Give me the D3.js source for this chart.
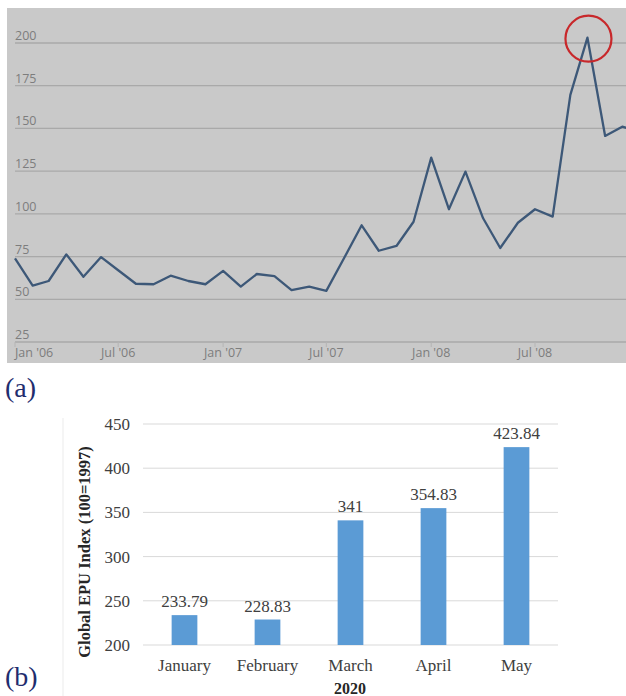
<!DOCTYPE html>
<html>
<head>
<meta charset="utf-8">
<script src="https://cdn.jsdelivr.net/npm/d3@7"></script>
<style>
  body { margin: 0; background: #fff; }
  svg { display: block; }
</style>
</head>
<body>
<svg id="chart" width="626" height="696"></svg>
<script>
// (a) monthly index, Jan 2006 .. Jan 2009
var months = ["2006-01","2006-02","2006-03","2006-04","2006-05","2006-06","2006-07","2006-08","2006-09","2006-10","2006-11","2006-12",
              "2007-01","2007-02","2007-03","2007-04","2007-05","2007-06","2007-07","2007-08","2007-09","2007-10","2007-11","2007-12",
              "2008-01","2008-02","2008-03","2008-04","2008-05","2008-06","2008-07","2008-08","2008-09","2008-10","2008-11","2008-12",
              "2009-01"];
var indexValues = [74, 58, 60.7, 76.3, 63.2, 74.7, 67, 59.1, 58.8, 63.8, 60.7, 58.8,
                   66.6, 57.4, 64.8, 63.6, 55.4, 57.4, 54.9, 74, 93.3, 78.4, 81.2, 95.4,
                   132.9, 102.7, 124.7, 97.4, 80, 94.8, 102.7, 98.4, 169.6, 203.1, 145.6, 151,
                   148];
var yTicksA = [25, 50, 75, 100, 125, 150, 175, 200];
var xTickLabelsA = ["Jan '06", "Jul '06", "Jan '07", "Jul '07", "Jan '08", "Jul '08"];
var xTickDatesA = ["2006-01", "2006-07", "2007-01", "2007-07", "2008-01", "2008-07"];

// (b) Global EPU index 2020
var monthsB = ["January", "February", "March", "April", "May"];
var epuValues = [233.79, 228.83, 341, 354.83, 423.84];
var epuLabels = ["233.79", "228.83", "341", "354.83", "423.84"];
var yTicksB = [200, 250, 300, 350, 400, 450];

var svg = d3.select("#chart");
var parseMonth = d3.timeParse("%Y-%m");

//-------------------------------------------------
// Panel (a)
//-------------------------------------------------
var bgA = {x: 7, y: 8, w: 619, h: 355};
svg.append("rect")
    .attr("x", bgA.x).attr("y", bgA.y)
    .attr("width", bgA.w).attr("height", bgA.h)
    .attr("fill", "#c9c9c9");

var xA = d3.scaleTime()
    .domain([parseMonth("2006-01"), parseMonth("2008-07")])
    .range([15, 535]);
var yA = d3.scaleLinear()
    .domain([25, 200])
    .range([342, 43]);

var gA = svg.append("g");

gA.selectAll("line.grid")
    .data(yTicksA).enter().append("line")
    .attr("class", "grid")
    .attr("x1", 15).attr("x2", 626)
    .attr("y1", function(d) { return yA(d); })
    .attr("y2", function(d) { return yA(d); })
    .attr("stroke", "#a9a9a9")
    .attr("stroke-width", 1.3);

gA.selectAll("text.ylab")
    .data(yTicksA).enter().append("text")
    .attr("class", "ylab")
    .attr("x", 15)
    .attr("y", function(d) { return yA(d) - 3; })
    .attr("font-family", "'Open Sans', sans-serif")
    .attr("font-size", 12.5)
    .attr("fill", "#7d7d7d")
    .text(function(d) { return d; });

// ticks under the base line
gA.selectAll("line.xtick")
    .data(xTickDatesA).enter().append("line")
    .attr("class", "xtick")
    .attr("x1", function(d) { return xA(parseMonth(d)); })
    .attr("x2", function(d) { return xA(parseMonth(d)); })
    .attr("y1", 342).attr("y2", 347)
    .attr("stroke", "#b5b5b5");

gA.selectAll("text.xlab")
    .data(xTickDatesA).enter().append("text")
    .attr("class", "xlab")
    .attr("x", function(d) { return xA(parseMonth(d)); })
    .attr("y", 357)
    .attr("text-anchor", function(d, i) { return i === 0 ? "start" : "middle"; })
    .attr("font-family", "'Open Sans', sans-serif")
    .attr("font-size", 12.5)
    .attr("fill", "#7d7d7d")
    .text(function(d, i) { return xTickLabelsA[i]; });

var lineData = months.map(function(m, i) { return {date: parseMonth(m), value: indexValues[i]}; });

svg.append("clipPath").attr("id", "clipA")
    .append("rect")
    .attr("x", bgA.x).attr("y", bgA.y)
    .attr("width", bgA.w).attr("height", bgA.h);

var line = d3.line()
    .x(function(d) { return xA(d.date); })
    .y(function(d) { return yA(d.value); });

gA.append("path")
    .datum(lineData)
    .attr("clip-path", "url(#clipA)")
    .attr("d", line)
    .attr("fill", "none")
    .attr("stroke", "#3d5878")
    .attr("stroke-width", 2.3)
    .attr("stroke-linejoin", "round");

// red hand-drawn circle round the peak
var peak = lineData[33];
gA.append("ellipse")
    .attr("cx", xA(peak.date) + 1)
    .attr("cy", yA(peak.value) + 1)
    .attr("rx", 23)
    .attr("ry", 23)
    .attr("fill", "none")
    .attr("stroke", "#c8282b")
    .attr("stroke-width", 2.2);

svg.append("text")
    .attr("x", 5).attr("y", 397)
    .attr("font-family", "'Liberation Serif', serif")
    .attr("font-size", 28)
    .attr("fill", "#1f2d6e")
    .text("(a)");

//-------------------------------------------------
// Panel (b)
//-------------------------------------------------
var xB = d3.scaleBand()
    .domain(monthsB)
    .range([143, 558])
    .paddingInner(0.69)
    .paddingOuter(0.345);
var yB = d3.scaleLinear()
    .domain([200, 450])
    .range([645, 424]);

var gB = svg.append("g");

// faint frame line on the left
gB.append("line")
    .attr("x1", 63).attr("x2", 63)
    .attr("y1", 418).attr("y2", 696)
    .attr("stroke", "#ebebeb");

gB.selectAll("line.grid")
    .data(yTicksB).enter().append("line")
    .attr("class", "grid")
    .attr("x1", 143).attr("x2", 558)
    .attr("y1", function(d) { return yB(d); })
    .attr("y2", function(d) { return yB(d); })
    .attr("stroke", "#d9d9d9")
    .attr("stroke-width", 1);

gB.selectAll("text.ylab")
    .data(yTicksB).enter().append("text")
    .attr("class", "ylab")
    .attr("x", 130)
    .attr("y", function(d) { return yB(d); })
    .attr("dy", "0.35em")
    .attr("text-anchor", "end")
    .attr("font-family", "'Liberation Serif', serif")
    .attr("font-size", 17)
    .attr("fill", "#404040")
    .text(function(d) { return d; });

gB.selectAll("rect.bar")
    .data(epuValues).enter().append("rect")
    .attr("class", "bar")
    .attr("x", function(d, i) { return xB(monthsB[i]); })
    .attr("y", function(d) { return yB(d); })
    .attr("width", xB.bandwidth())
    .attr("height", function(d) { return yB(200) - yB(d); })
    .attr("fill", "#5b9bd5");

gB.selectAll("text.val")
    .data(epuValues).enter().append("text")
    .attr("class", "val")
    .attr("x", function(d, i) { return xB(monthsB[i]) + xB.bandwidth() / 2; })
    .attr("y", function(d) { return yB(d) - 8; })
    .attr("text-anchor", "middle")
    .attr("font-family", "'Liberation Serif', serif")
    .attr("font-size", 17)
    .attr("fill", "#404040")
    .text(function(d, i) { return epuLabels[i]; });

gB.selectAll("text.cat")
    .data(monthsB).enter().append("text")
    .attr("class", "cat")
    .attr("x", function(d) { return xB(d) + xB.bandwidth() / 2; })
    .attr("y", 671)
    .attr("text-anchor", "middle")
    .attr("font-family", "'Liberation Serif', serif")
    .attr("font-size", 17)
    .attr("fill", "#404040")
    .text(function(d) { return d; });

gB.append("text")
    .attr("x", 350).attr("y", 694)
    .attr("text-anchor", "middle")
    .attr("font-family", "'Liberation Serif', serif")
    .attr("font-size", 16)
    .attr("font-weight", "bold")
    .attr("fill", "#262626")
    .text("2020");

gB.append("text")
    .attr("transform", "translate(90,552) rotate(-90)")
    .attr("text-anchor", "middle")
    .attr("font-family", "'Liberation Serif', serif")
    .attr("font-size", 16.5)
    .attr("font-weight", "bold")
    .attr("fill", "#262626")
    .text("Global EPU Index (100=1997)");

svg.append("text")
    .attr("x", 5).attr("y", 686)
    .attr("font-family", "'Liberation Serif', serif")
    .attr("font-size", 28)
    .attr("fill", "#1f2d6e")
    .text("(b)");
</script>
</body>
</html>
